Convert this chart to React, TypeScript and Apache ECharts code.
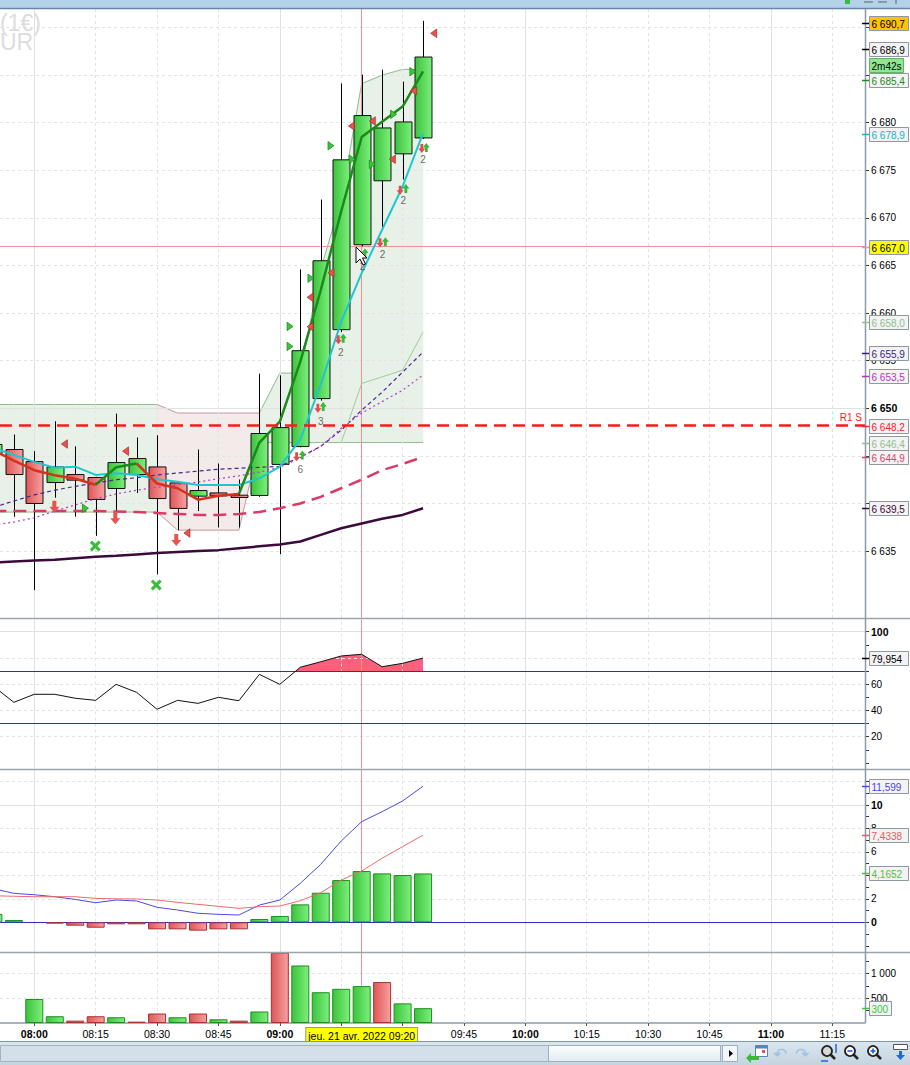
import React, { useEffect, useRef } from 'react';
import * as echarts from 'echarts';

const FONT = "'Liberation Sans', Arial, sans-serif";

// ---------- time scale (minutes after 07:00), 5-minute bars 07:50 … 09:35 ----------
const barTimes = [50, 55, 60, 65, 70, 75, 80, 85, 90, 95, 100, 105, 110, 115, 120, 125, 130, 135, 140, 145, 150, 155];

// ---------- candles ----------
const opens = [6645.2, 6645.67, 6644.4, 6642.2, 6643.04, 6642.73, 6641.57, 6643.04, 6643.84, 6642.16, 6640.77, 6641.11, 6640.87, 6640.84, 6644.1, 6645.98, 6651.02, 6658.26, 6667.18, 6673.9, 6676.73, 6678.4];
const closes = [6646.2, 6643.04, 6640.0, 6643.84, 6642.45, 6640.42, 6644.3, 6644.72, 6640.52, 6639.48, 6641.36, 6640.8, 6640.63, 6647.35, 6647.97, 6656.05, 6665.5, 6676.1, 6680.75, 6679.45, 6680.08, 6686.9];
const lows = [6644.5, 6638.6, 6630.9, 6640.6, 6638.6, 6636.6, 6639.1, 6641.1, 6632.55, 6637.2, 6639.2, 6637.48, 6637.48, 6640.7, 6634.68, 6645.9, 6650.8, 6658.0, 6667.0, 6668.68, 6674.03, 6678.3];
const highs = [6647.0, 6647.24, 6645.5, 6648.64, 6646.0, 6642.8, 6649.44, 6646.93, 6647.17, 6642.3, 6645.67, 6644.2, 6642.52, 6653.64, 6653.46, 6664.59, 6671.93, 6684.13, 6685.05, 6685.57, 6684.31, 6690.7];

// ---------- overlays ----------
const fastMa = [6645.6, 6644.5, 6643.5, 6642.97, 6642.6, 6641.97, 6643.8, 6644.2, 6642.1, 6641.6, 6640.4, 6640.8, 6641.0, 6646.4, 6648.6, 6654.9, 6662.4, 6670.7, 6678.5, 6680.1, 6681.7, 6685.4];
// per segment (bar i -> i+1): 1 = rising colour (green), 0 = falling colour (red)
const fastMaSegUp = [0, 0, 0, 0, 0, 1, 1, 0, 0, 0, 0, 0, 1, 1, 1, 1, 1, 1, 1, 1, 1];
const cyanLine = [6645.84, 6645.1, 6644.37, 6643.76, 6643.87, 6643.0, 6643.17, 6643.0, 6642.54, 6642.29, 6641.94, 6641.94, 6641.94, 6642.65, 6643.87, 6646.7, 6652.5, 6659.1, 6664.2, 6668.75, 6673.3, 6678.9];
const crimsonMa = [6639.2, 6639.2, 6639.2, 6639.2, 6639.2, 6639.2, 6639.15, 6639.1, 6639.0, 6638.9, 6638.8, 6638.8, 6638.9, 6639.1, 6639.5, 6640.0, 6640.7, 6641.6, 6642.5, 6643.5, 6644.15, 6644.9];
const slowMa = [6633.8, 6633.9, 6634.0, 6634.1, 6634.25, 6634.4, 6634.5, 6634.65, 6634.8, 6634.9, 6635.0, 6635.1, 6635.3, 6635.5, 6635.7, 6636.0, 6636.7, 6637.4, 6637.9, 6638.4, 6638.8, 6639.5];
const purpleDash = [6639.6, 6640.26, 6640.9, 6641.4, 6641.8, 6642.15, 6642.5, 6642.7, 6643.0, 6643.2, 6643.4, 6643.6, 6643.7, 6643.8, 6643.9, 6644.9, 6646.0, 6647.7, 6649.8, 6651.7, 6653.8, 6655.9];
const magentaDot = [6637.7, 6638.05, 6638.5, 6639.2, 6639.85, 6640.5, 6641.0, 6641.4, 6641.7, 6641.95, 6642.25, 6642.6, 6642.9, 6643.3, 6643.8, 6644.8, 6646.0, 6647.9, 6649.5, 6650.7, 6651.9, 6653.5];
const bandUpper = [6650.4, 6650.4, 6650.4, 6650.4, 6650.4, 6650.4, 6650.4, 6650.4, 6650.4, 6649.5, 6649.5, 6649.5, 6649.5, 6649.5, 6653.7, 6653.7, 6664.6, 6671.9, 6684.1, 6685.0, 6685.6, 6685.6];
const bandLower = [6639.1, 6639.1, 6639.1, 6639.1, 6639.1, 6639.1, 6639.1, 6639.1, 6639.1, 6637.2, 6637.2, 6637.2, 6637.2, 6646.4, 6646.4, 6646.4, 6646.4, 6646.4, 6646.4, 6646.4, 6646.4, 6646.4];
// per segment: 1 = bearish (pink) fill, 0 = bullish (green) fill
const bandPink = [0, 0, 0, 0, 0, 0, 0, 0, 1, 1, 1, 1, 1, 0, 0, 0, 0, 0, 0, 0, 0];
const bandInner = [null, null, null, null, null, null, null, null, null, null, null, null, null, null, null, null, null, 6646.4, 6652.6, 6653.3, 6654.0, 6658.0];

const crossTime = 140;
const crossPrice = 6667.0;
const crossDateText = 'jeu. 21 avr. 2022';
const r1Level = 6648.2;
const r1Label = 'R1 S';
const timeRemaining = '2m42s';
const watermarkText = '(1€)\nUR';

// ---------- signal markers [time, price] ----------
const sellTriangles = [[67.35, 6646.25], [82.3, 6645.5], [97.3, 6636.9], [127.4, 6661.66], [127.4, 6658.57], [132.5, 6664.24], [137.5, 6679.65], [142.6, 6680.18], [147.5, 6676.16], [152.7, 6683.36], [157.6, 6689.39]];
const buyTriangles = [[72.5, 6639.5], [122.5, 6658.6], [122.5, 6656.5], [127.6, 6663.66], [132.5, 6677.58], [137.7, 6676.16], [142.6, 6675.63], [147.8, 6680.88], [152.5, 6685.36]];
const bigSellArrows = [[64.9, 6639.66], [79.8, 6638.45], [94.7, 6636.17]];
const crossSignals = [[74.9, 6635.54], [89.8, 6631.44]];
const smallSellArrows = [[124.1, 6644.9], [129.3, 6650.0], [134.3, 6657.2], [144.5, 6667.4], [149.4, 6672.9], [154.7, 6677.3]];
const smallBuyArrows = [[125.5, 6645.1], [130.6, 6650.2], [135.5, 6657.35], [140.8, 6666.3], [145.8, 6667.5], [150.8, 6673.1], [155.8, 6677.4]];
const signalCountPos = [[125.0, 6643.6], [130.0, 6648.6], [134.9, 6655.9], [140.2, 6664.9], [145.1, 6666.2], [150.2, 6671.8], [155.0, 6676.1]];
const signalCountText = ['6', '3', '2', '2', '2', '2', '2'];

// ---------- RSI ----------
const rsi = [58.5, 46.2, 52.3, 52.3, 49.3, 47.7, 59.9, 53.8, 40.9, 47.7, 45.4, 50.0, 47.4, 67.5, 59.9, 72.9, 77.1, 81.5, 82.8, 73.3, 75.9, 79.954];
const rsiOverbought = 70;
const rsiOversold = 30;

// ---------- MACD ----------
const macd = [2.87, 2.47, 2.35, 2.18, 1.95, 1.67, 1.9, 1.82, 1.28, 1.05, 0.77, 0.68, 0.62, 1.47, 1.9, 3.32, 4.94, 6.93, 8.58, 9.43, 10.34, 11.599];
const macdSignal = [2.26, 2.22, 2.18, 2.18, 2.18, 2.04, 2.0, 1.99, 1.9, 1.7, 1.53, 1.36, 1.19, 1.33, 1.39, 1.84, 2.52, 3.6, 4.37, 5.46, 6.45, 7.4338];
const macdHist = [0.71, 0.2, 0, -0.11, -0.29, -0.46, -0.17, -0.17, -0.6, -0.6, -0.71, -0.6, -0.6, 0.28, 0.54, 1.53, 2.52, 3.6, 4.37, 4.17, 4.03, 4.1652];

// ---------- volume ----------
const volume = [null, null, 486, 137, 48, 137, 116, 27, 192, 116, 192, 75, 48, 233, 1500, 1164, 623, 692, 747, 829, 397, 300];
const volumeUp = [1, 1, 1, 1, 0, 0, 1, 0, 0, 1, 0, 1, 0, 1, 0, 1, 1, 1, 1, 0, 1, 1];

// ---------- axes ----------
const quarterTimes = [60, 75, 90, 105, 120, 135, 150, 165, 180, 195, 210, 225, 240, 255];
const hourTimes = [60, 120, 180, 240];
const xLabelTimes = [60, 75, 90, 105, 120, 140, 165, 180, 195, 210, 225, 240, 255];
const priceTicks = [6635, 6640, 6645, 6650, 6655, 6660, 6665, 6670, 6675, 6680, 6685, 6690];
const priceLabels = [6635, 6650, 6655, 6660, 6665, 6670, 6675, 6680];
const priceBold = [6650];
const rsiTicks = [0, 10, 20, 30, 40, 50, 60, 70, 80, 90, 100];
const rsiLabels = [20, 40, 60, 100];
const rsiGridVals = [20, 40, 60, 80, 100];
const macdTicks = [-2, -1, 0, 1, 2, 3, 4, 5, 6, 7, 8, 9, 10, 11, 12];
const macdLabels = [0, 2, 6, 8, 10];
const macdGridVals = [2, 4, 6, 8, 10, 12];
const volTicks = [250, 500, 750, 1000, 1250];
const volLabels = [500, 1000];

const last = barTimes.length - 1;

const hhmm = (m: number) => {
  const h = 7 + Math.floor(m / 60);
  const mm = Math.round(m % 60);
  return `${String(h).padStart(2, '0')}:${String(mm).padStart(2, '0')}`;
};
const fmtNum = (v: number, dec: number) => {
  const [i, d] = v.toFixed(dec).split('.');
  const ii = i.replace(/\B(?=(\d{3})+(?!\d))/g, ' ');
  return d ? `${ii},${d}` : ii;
};

const greenGrad = () => new echarts.graphic.LinearGradient(0, 0, 1, 0, [{ offset: 0, color: '#3cc43c' }, { offset: 1, color: '#7def7d' }]);
const redGrad = () => new echarts.graphic.LinearGradient(0, 0, 1, 0, [{ offset: 0, color: '#e05656' }, { offset: 1, color: '#f6a0a0' }]);

const CROSS_COLOR = '#f29090';
const gridLineStyle = (solid: boolean) => ({ color: solid ? '#e1e1e1' : '#e3e3e3', type: solid ? 'solid' : [3, 3], width: 1 });
const vGridData = () => quarterTimes.map((t) => ({ xAxis: t, lineStyle: gridLineStyle(hourTimes.includes(t)) }));
const hGridData = (vals: number[], solidVals: number[]) => vals.map((v) => ({ yAxis: v, lineStyle: gridLineStyle(solidVals.includes(v)) }));
const crossV = () => ({ xAxis: crossTime, lineStyle: { color: CROSS_COLOR, width: 1, type: 'solid' } });
const markLineOf = (data: any[], z: number) => ({
  silent: true, symbol: ['none', 'none'], z, label: { show: false }, emphasis: { disabled: true }, animation: false, data,
});

const pair = (arr: (number | null)[]) => barTimes.map((t, i) => [t, arr[i] == null ? '-' : arr[i]]);

function buildOption(): any {
  const xMin = 51.62;
  const xMax = 263.0;
  const grids = [
    { left: 0, right: 45, top: 8, height: 610 },
    { left: 0, right: 45, top: 619.5, height: 149 },
    { left: 0, right: 45, top: 770, height: 182 },
    { left: 0, right: 45, top: 953, height: 70 },
  ].map((g) => ({ ...g, outerBoundsMode: 'none', containLabel: false, show: false }));

  const xAxis = grids.map((_, i) => {
    if (i < 3) return { type: 'value', gridIndex: i, min: xMin, max: xMax, show: false };
    return {
      type: 'value', gridIndex: i, min: xMin, max: xMax,
      axisLine: { show: true, lineStyle: { color: '#8c9aa6', width: 1.5 } },
      axisTick: { show: true, customValues: quarterTimes, length: 3, lineStyle: { color: '#555' } },
      splitLine: { show: false },
      axisLabel: {
        customValues: xLabelTimes, margin: 5, color: '#000', fontSize: 10.5, fontFamily: FONT,
        formatter: (v: number) =>
          v === crossTime ? `{d|${crossDateText} ${hhmm(v)}}` : hourTimes.includes(v) ? `{b|${hhmm(v)}}` : `{n|${hhmm(v)}}`,
        rich: {
          b: { fontWeight: 'bold', fontSize: 10.5, fontFamily: FONT, color: '#000' },
          n: { fontSize: 10.5, fontFamily: FONT, color: '#000' },
          d: { fontSize: 10.5, fontFamily: FONT, color: '#000', backgroundColor: '#ffff00', borderColor: '#8e989f', borderWidth: 1, padding: [2, 2, 1, 2] },
        },
      },
    };
  });

  const yAx = (i: number, min: number, max: number, ticks: number[], labels: number[], bold: number[], fmt: (v: number) => string) => ({
    type: 'value', gridIndex: i, position: 'right', min, max,
    axisLine: { show: false },
    axisTick: { show: true, customValues: ticks, length: 4, lineStyle: { color: '#333' } },
    splitLine: { show: false },
    axisLabel: {
      customValues: labels, margin: 6, color: '#000', fontSize: 10, fontFamily: FONT,
      formatter: (v: number) => (bold.includes(v) ? `{b|${fmt(v)}}` : `{n|${fmt(v)}}`),
      rich: {
        b: { fontWeight: 'bold', fontSize: 10.5, fontFamily: FONT, color: '#000' },
        n: { fontSize: 10, fontFamily: FONT, color: '#000' },
      },
    },
  });

  const yAxis = [
    yAx(0, 6627.97, 6692.05, priceTicks, priceLabels, priceBold, (v) => fmtNum(v, 0)),
    yAx(1, -4.23, 109.3, rsiTicks, rsiLabels, [100], (v) => fmtNum(v, 0)),
    yAx(2, -2.53, 12.98, macdTicks, macdLabels, [0, 10], (v) => fmtNum(v, 0)),
    yAx(3, 0, 1417, volTicks, volLabels, [], (v) => fmtNum(v, 0)),
  ];

  const candleData = barTimes.map((t, i) => [t, opens[i], closes[i], lows[i], highs[i]]);
  const bandData = barTimes.slice(0, -1).map((t, i) => [t, barTimes[i + 1], bandUpper[i], bandUpper[i + 1], bandLower[i], bandLower[i + 1], bandPink[i]]);

  const fastRed = barTimes.map((t, i) => {
    const prev = i > 0 && fastMaSegUp[i - 1] === 0;
    const next = i < last && fastMaSegUp[i] === 0;
    return [t, prev || next ? fastMa[i] : '-'];
  });
  const fastGreen = barTimes.map((t, i) => {
    const prev = i > 0 && fastMaSegUp[i - 1] === 1;
    const next = i < last && fastMaSegUp[i] === 1;
    return [t, prev || next ? fastMa[i] : '-'];
  });

  const lineS = (data: any[], color: string, width: number, type: any, z: number, extra: any = {}) => ({
    type: 'line', xAxisIndex: 0, yAxisIndex: 0, data, showSymbol: false, symbol: 'none', z,
    lineStyle: { color, width, type }, connectNulls: false, silent: true, animation: false, ...extra,
  });

  const arrowDown = 'path://M3,0 L7,0 L7,6 L10,6 L5,12 L0,6 L3,6 Z';
  const arrowUp = 'path://M5,0 L10,6 L7,6 L7,12 L3,12 L3,6 L0,6 Z';
  const crossPath = 'path://M2,0 L5,3 L8,0 L10,2 L7,5 L10,8 L8,10 L5,7 L2,10 L0,8 L3,5 L0,2 Z';

  const scat = (data: any[], symbol: string, size: any, rotate: number, color: string, border: string) => ({
    type: 'scatter', xAxisIndex: 0, yAxisIndex: 0, data, symbol, symbolSize: size, symbolRotate: rotate, z: 5, silent: true,
    itemStyle: { color, borderColor: border, borderWidth: border === 'none' ? 0 : 0.7, opacity: 1 },
  });

  const barStyle = (up: boolean) => (up
    ? { color: greenGrad(), borderColor: '#1f8e1f', borderWidth: 1 }
    : { color: redGrad(), borderColor: '#a83232', borderWidth: 1 });

  const series: any[] = [
    // channel band
    {
      type: 'custom', xAxisIndex: 0, yAxisIndex: 0, z: 1, clip: true, silent: true, data: bandData,
      encode: { x: 0, y: 2 },
      renderItem: (params: any, api: any) => {
        const a = api.coord([api.value(0), api.value(2)]);
        const b = api.coord([api.value(1), api.value(3)]);
        const c = api.coord([api.value(1), api.value(5)]);
        const d = api.coord([api.value(0), api.value(4)]);
        const pink = api.value(6) === 1;
        const fill = pink ? '#f3eaea' : '#e8f1e8';
        const edge = pink ? '#c39c9c' : '#8dbd8d';
        return {
          type: 'group',
          children: [
            { type: 'polygon', shape: { points: [a, b, c, d] }, style: { fill, stroke: fill, lineWidth: 0.6 } },
            { type: 'line', shape: { x1: a[0], y1: a[1], x2: b[0], y2: b[1] }, style: { stroke: edge, lineWidth: 1 } },
            { type: 'line', shape: { x1: d[0], y1: d[1], x2: c[0], y2: c[1] }, style: { stroke: edge, lineWidth: 1 } },
          ],
        };
      },
    },
    // candles
    {
      type: 'custom', xAxisIndex: 0, yAxisIndex: 0, z: 3, clip: true, silent: true, data: candleData,
      encode: { x: 0, y: [1, 2, 3, 4] },
      renderItem: (params: any, api: any) => {
        const t = api.value(0);
        const o = api.value(1), c = api.value(2), l = api.value(3), h = api.value(4);
        const pO = api.coord([t, o]);
        const pC = api.coord([t, c]);
        const pL = api.coord([t, l]);
        const pH = api.coord([t, h]);
        const w = api.size([5, 0])[0] * 0.83;
        const x = Math.round(pO[0]) + 0.5;
        const top = Math.min(pO[1], pC[1]);
        const bot = Math.max(pO[1], pC[1]);
        const up = c >= o;
        return {
          type: 'group',
          children: [
            { type: 'line', shape: { x1: x, y1: pH[1], x2: x, y2: pL[1] }, style: { stroke: '#000', lineWidth: 1 } },
            { type: 'rect', shape: { x: x - w / 2, y: top, width: w, height: Math.max(bot - top, 1.5) }, style: { fill: up ? greenGrad() : redGrad(), stroke: '#111', lineWidth: 1 } },
          ],
        };
      },
    },
    lineS(pair(slowMa), '#3a0a3c', 2.5, 'solid', 4, {
      markLine: markLineOf([...vGridData(), ...hGridData(priceTicks, priceBold), crossV(), { yAxis: crossPrice, lineStyle: { color: CROSS_COLOR, width: 1, type: 'solid' } }], 2),
    }),
    lineS(pair(crimsonMa), '#d83c66', 2.5, [13, 7], 4),
    lineS(pair(purpleDash), '#4a2590', 1.2, [4, 3], 4),
    lineS(pair(magentaDot), '#b03cc4', 1.2, [2, 3], 4, {
      markLine: markLineOf([{
        yAxis: r1Level, lineStyle: { color: '#ff1a1a', width: 2.5, type: [12, 7] },
        label: { show: true, formatter: r1Label, position: 'insideEndTop', color: '#ff1a1a', fontSize: 10, fontFamily: FONT, distance: 3 },
      }], 6),
    }),
    lineS(pair(bandInner), '#9fcb9f', 1, 'solid', 4),
    lineS(pair(cyanLine), '#1ec6d2', 2, 'solid', 4),
    lineS(fastRed, '#d5321e', 2.5, 'solid', 4),
    lineS(fastGreen, '#1a8a1a', 2.5, 'solid', 4),
    scat(sellTriangles, 'triangle', [8.5, 6], 90, '#e65252', '#b02424'),
    scat(buyTriangles, 'triangle', [8.5, 6], -90, '#3cc43c', '#138a13'),
    scat(bigSellArrows, arrowDown, [10, 12], 0, '#e8534f', 'none'),
    scat(crossSignals, crossPath, [11, 11], 0, '#3cbc3c', 'none'),
    scat(smallSellArrows, arrowDown, [7, 9], 0, '#e44c4c', 'none'),
    scat(smallBuyArrows, arrowUp, [7, 9], 0, '#38b838', 'none'),
    {
      type: 'scatter', xAxisIndex: 0, yAxisIndex: 0, z: 5, silent: true, symbolSize: 1,
      itemStyle: { color: 'rgba(0,0,0,0)' },
      data: signalCountPos.map((p, i) => [p[0], p[1], signalCountText[i]]),
      label: { show: true, position: 'inside', formatter: (p: any) => String(p.value[2]), fontSize: 10, fontFamily: FONT, color: '#444' },
    },
    // RSI
    {
      type: 'custom', xAxisIndex: 1, yAxisIndex: 1, z: 1, clip: true, silent: true, data: [[barTimes[0], rsiOverbought]],
      renderItem: (params: any, api: any) => {
        const base = api.coord([barTimes[0], rsiOverbought])[1];
        const pts = barTimes.map((t, i) => api.coord([t, rsi[i]]));
        const poly: number[][] = [[pts[0][0], base]];
        for (let i = 0; i < pts.length; i++) {
          const p = pts[i];
          if (i > 0) {
            const q = pts[i - 1];
            if ((q[1] - base) * (p[1] - base) < 0) {
              const f = (base - q[1]) / (p[1] - q[1]);
              poly.push([q[0] + f * (p[0] - q[0]), base]);
            }
          }
          poly.push([p[0], Math.min(p[1], base)]);
        }
        poly.push([pts[pts.length - 1][0], base]);
        return { type: 'polygon', shape: { points: poly }, style: { fill: '#ff5f7e' } };
      },
    },
    {
      type: 'line', xAxisIndex: 1, yAxisIndex: 1, data: pair(rsi), showSymbol: false, symbol: 'none', z: 4, silent: true,
      lineStyle: { color: '#111', width: 1 },
      markLine: markLineOf([
        ...vGridData(), ...hGridData(rsiGridVals, [100]), crossV(),
        { yAxis: rsiOverbought, lineStyle: { color: '#2a2ad2', width: 1.2, type: 'solid' } },
        { yAxis: rsiOversold, lineStyle: { color: '#2a2ad2', width: 1.2, type: 'solid' } },
      ], 2),
    },
    // MACD
    {
      type: 'bar', xAxisIndex: 2, yAxisIndex: 2, barWidth: 18, z: 3, silent: true,
      data: macdHist.map((v, i) => (v === 0 ? [barTimes[i], '-'] : { value: [barTimes[i], v], itemStyle: barStyle(v > 0) })),
    },
    {
      type: 'line', xAxisIndex: 2, yAxisIndex: 2, data: pair(macd), showSymbol: false, symbol: 'none', z: 4, silent: true,
      lineStyle: { color: '#4a4ae6', width: 1 },
      markLine: markLineOf([
        ...vGridData(), ...hGridData(macdGridVals, [10]), crossV(),
        { yAxis: 0, lineStyle: { color: '#2a2ad2', width: 1.2, type: 'solid' } },
      ], 2),
    },
    {
      type: 'line', xAxisIndex: 2, yAxisIndex: 2, data: pair(macdSignal), showSymbol: false, symbol: 'none', z: 4, silent: true,
      lineStyle: { color: '#ee6a6a', width: 1 },
    },
    // volume
    {
      type: 'bar', xAxisIndex: 3, yAxisIndex: 3, barWidth: 18, z: 3, silent: true,
      data: volume.map((v, i) => (v == null ? [barTimes[i], '-'] : { value: [barTimes[i], v], itemStyle: barStyle(volumeUp[i] === 1) })),
      markLine: markLineOf([...vGridData(), ...hGridData([500, 1000], []), crossV()], 2),
    },
  ];

  return {
    animation: false,
    backgroundColor: '#ffffff',
    textStyle: { fontFamily: FONT },
    grid: grids,
    xAxis,
    yAxis,
    series,
  };
}

function valueBox(y: number, text: string, color: string, fill: string, tick: string, width = 39): any {
  const yy = Math.round(y);
  return {
    type: 'group', z: 100, silent: true,
    children: [
      { type: 'line', shape: { x1: 862, y1: yy + 0.5, x2: 869, y2: yy + 0.5 }, style: { stroke: tick, lineWidth: 1.5 }, z: 100 },
      { type: 'rect', shape: { x: 869.5, y: yy - 6.5, width, height: 14 }, style: { fill, stroke: '#8e989f', lineWidth: 1 }, z: 100 },
      { type: 'text', x: 871.5, y: yy + 1, style: { text, fill: color, fontSize: 10, fontFamily: FONT, verticalAlign: 'middle', align: 'left' }, z: 101 },
    ],
  };
}

function buildGraphics(chart: any): any[] {
  const py = (axis: number, v: number) => chart.convertToPixel({ yAxisIndex: axis }, v) as number;
  const G: any[] = [];
  // watermark (instrument name, cut off at the left edge as in the platform)
  G.push({ type: 'text', x: 0, y: 13, z: 0, silent: true, style: { text: watermarkText, fill: '#dcdcdc', fontSize: 23, lineHeight: 19, fontFamily: FONT, verticalAlign: 'top' } });
  // header strip
  G.push({ type: 'rect', z: 50, silent: true, shape: { x: 0, y: 0, width: 910, height: 8 }, style: { fill: '#b3d2e9' } });
  G.push({ type: 'line', z: 50, silent: true, shape: { x1: 0, y1: 8.5, x2: 910, y2: 8.5 }, style: { stroke: '#6586a6', lineWidth: 1.5 } });
  G.push({ type: 'rect', z: 51, silent: true, shape: { x: 845, y: 0, width: 5, height: 4 }, style: { fill: '#3cb83c' } });
  G.push({ type: 'rect', z: 51, silent: true, shape: { x: 864, y: 1, width: 9, height: 2 }, style: { fill: '#8a99a6' } });
  G.push({ type: 'rect', z: 51, silent: true, shape: { x: 878, y: 1, width: 9, height: 2 }, style: { fill: '#8a99a6' } });
  G.push({ type: 'rect', z: 51, silent: true, shape: { x: 895, y: 0, width: 2, height: 4 }, style: { fill: '#8a99a6' } });
  // panel separators & right axis line
  [618.5, 769.5, 952.5].forEach((y) => G.push({ type: 'line', z: 50, silent: true, shape: { x1: 0, y1: y, x2: 910, y2: y }, style: { stroke: '#9aa4ad', lineWidth: 1.5 } }));
  G.push({ type: 'line', z: 50, silent: true, shape: { x1: 865.5, y1: 9, x2: 865.5, y2: 1023 }, style: { stroke: '#8c9aa6', lineWidth: 1.5 } });

  // mouse cursor
  const cx = 356, cy = 247;
  G.push({ type: 'polygon', z: 60, silent: true, shape: { points: [[cx, cy], [cx, cy + 16], [cx + 4, cy + 12], [cx + 7, cy + 18], [cx + 9.5, cy + 17], [cx + 6.5, cy + 11], [cx + 11, cy + 11]] }, style: { fill: '#fff', stroke: '#000', lineWidth: 1 } });

  // value boxes - price panel
  const closeY = py(0, closes[last]);
  const boxes: any[] = [
    { v: highs[last], dec: 1, color: '#000', fill: '#ffc400', tick: '#000', dy: 2 },
    { v: closes[last], dec: 1, color: '#000', fill: '#f3f3f3', tick: '#000', dy: -8 },
    { v: fastMa[last], dec: 1, color: '#1c8c1c', fill: '#f3f3f3', tick: '#1c8c1c', dy: 9 },
    { v: cyanLine[last], dec: 1, color: '#17b4c4', fill: '#f3f3f3', tick: '#17b4c4', dy: 1 },
    { v: crossPrice, dec: 1, color: '#000', fill: '#ffff00', tick: CROSS_COLOR, dy: 1 },
    { v: bandInner[last] as number, dec: 1, color: '#8fc08f', fill: '#f3f3f3', tick: '#8fc08f', dy: -10 },
    { v: purpleDash[last], dec: 1, color: '#3c1c8c', fill: '#f3f3f3', tick: '#3c1c8c', dy: 1 },
    { v: magentaDot[last], dec: 1, color: '#b434c4', fill: '#f3f3f3', tick: '#b434c4', dy: 1 },
    { v: r1Level, dec: 1, color: '#ff2020', fill: '#f3f3f3', tick: '#ff2020', dy: 1 },
    { v: bandLower[last], dec: 1, color: '#8fc08f', fill: '#f3f3f3', tick: '#8fc08f', dy: 0 },
    { v: crimsonMa[last], dec: 1, color: '#e0406a', fill: '#f3f3f3', tick: '#e0406a', dy: 0 },
    { v: slowMa[last], dec: 1, color: '#3a0a3a', fill: '#f3f3f3', tick: '#3a0a3a', dy: 0 },
  ];
  boxes.forEach((b) => G.push(valueBox(py(0, b.v) + b.dy, fmtNum(b.v, b.dec), b.color, b.fill, b.tick)));
  // time-remaining box
  const tr = Math.round(closeY + 8);
  G.push({
    type: 'group', z: 102, silent: true,
    children: [
      { type: 'rect', z: 102, shape: { x: 869.5, y: tr - 6.5, width: 34, height: 14 }, style: { fill: '#90e690', stroke: '#62b362', lineWidth: 1 } },
      { type: 'text', z: 103, x: 871.5, y: tr + 1, style: { text: timeRemaining, fill: '#000', fontSize: 10, fontFamily: FONT, verticalAlign: 'middle' } },
    ],
  });
  // RSI, MACD, volume boxes
  G.push(valueBox(py(1, rsi[last]), fmtNum(rsi[last], 3), '#000', '#f3f3f3', '#000'));
  G.push(valueBox(py(2, macd[last]), fmtNum(macd[last], 3), '#4646e6', '#f3f3f3', '#4646e6'));
  G.push(valueBox(py(2, macdSignal[last]), fmtNum(macdSignal[last], 4), '#e85a5a', '#f3f3f3', '#e85a5a'));
  G.push(valueBox(py(2, macdHist[last]), fmtNum(macdHist[last], 4), '#3cc83c', '#f3f3f3', '#3cc83c'));
  G.push(valueBox(py(3, volume[last] as number), fmtNum(volume[last] as number, 0), '#3cc83c', '#f3f3f3', '#3cc83c', 22));

  // bottom scroll bar / toolbar
  G.push({ type: 'line', z: 50, silent: true, shape: { x1: 0, y1: 1041.5, x2: 910, y2: 1041.5 }, style: { stroke: '#7f97aa', lineWidth: 1 } });
  G.push({ type: 'rect', z: 49, silent: true, shape: { x: 0, y: 1042, width: 910, height: 23 }, style: { fill: new echarts.graphic.LinearGradient(0, 0, 0, 1, [{ offset: 0, color: '#dae6ee' }, { offset: 1, color: '#c4d4df' }]) } });
  G.push({ type: 'rect', z: 50, silent: true, shape: { x: 0.5, y: 1045.5, width: 722, height: 16 }, style: { fill: '#d3e0e9', stroke: '#a3b4c0', lineWidth: 1 } });
  G.push({ type: 'rect', z: 51, silent: true, shape: { x: 548.5, y: 1045.5, width: 172, height: 16 }, style: { fill: new echarts.graphic.LinearGradient(0, 0, 0, 1, [{ offset: 0, color: '#fbfdfe' }, { offset: 1, color: '#e1ebf1' }]), stroke: '#9fb0bd', lineWidth: 1 } });
  G.push({ type: 'rect', z: 51, silent: true, shape: { x: 722.5, y: 1045.5, width: 15, height: 16 }, style: { fill: '#f2f6f8', stroke: '#9fb0bd', lineWidth: 1 } });
  G.push({ type: 'polygon', z: 52, silent: true, shape: { points: [[729, 1050], [733, 1053.5], [729, 1057]] }, style: { fill: '#000' } });
  // calendar icon
  G.push({ type: 'rect', z: 52, silent: true, shape: { x: 755.5, y: 1045.5, width: 12, height: 11 }, style: { fill: '#fff', stroke: '#5b84b5', lineWidth: 1 } });
  G.push({ type: 'rect', z: 52, silent: true, shape: { x: 755.5, y: 1045.5, width: 12, height: 3 }, style: { fill: '#5b84b5' } });
  G.push({ type: 'rect', z: 52, silent: true, shape: { x: 762, y: 1050, width: 3, height: 3 }, style: { fill: '#e0554a' } });
  G.push({ type: 'polygon', z: 53, silent: true, shape: { points: [[746, 1058], [751, 1053], [751, 1056], [759, 1056], [759, 1060], [751, 1060], [751, 1063]] }, style: { fill: '#3cb83c' } });
  // undo / redo
  G.push({ type: 'text', z: 52, silent: true, x: 773, y: 1054, style: { text: '↶', fill: '#9cc3e3', fontSize: 17, fontFamily: "'DejaVu Sans'", verticalAlign: 'middle' } });
  G.push({ type: 'text', z: 52, silent: true, x: 795, y: 1054, style: { text: '↷', fill: '#9cc3e3', fontSize: 17, fontFamily: "'DejaVu Sans'", verticalAlign: 'middle' } });
  // magnifiers
  [[827, 'fit'], [850, '-'], [873, '+']].forEach(([x, kind]: any) => {
    G.push({ type: 'circle', z: 52, silent: true, shape: { cx: x, cy: 1051, r: 5 }, style: { fill: kind === 'fit' ? '#d8d8d8' : '#fff', stroke: '#222', lineWidth: 1.8 } });
    G.push({ type: 'line', z: 52, silent: true, shape: { x1: x + 3.5, y1: 1054.5, x2: x + 8, y2: 1059 }, style: { stroke: '#222', lineWidth: 2.5 } });
    if (kind !== 'fit') {
      G.push({ type: 'line', z: 53, silent: true, shape: { x1: x - 2.5, y1: 1051, x2: x + 2.5, y2: 1051 }, style: { stroke: '#1e5ad8', lineWidth: 1.6 } });
      if (kind === '+') G.push({ type: 'line', z: 53, silent: true, shape: { x1: x, y1: 1048.5, x2: x, y2: 1053.5 }, style: { stroke: '#1e5ad8', lineWidth: 1.6 } });
    } else {
      G.push({ type: 'line', z: 53, silent: true, shape: { x1: x + 9, y1: 1044, x2: x + 9, y2: 1053 }, style: { stroke: '#1e5ad8', lineWidth: 1.4 } });
      G.push({ type: 'line', z: 53, silent: true, shape: { x1: x - 6, y1: 1061, x2: x + 1, y2: 1061 }, style: { stroke: '#1e5ad8', lineWidth: 1.4 } });
    }
  });
  // download icon
  G.push({ type: 'rect', z: 52, silent: true, shape: { x: 893.5, y: 1044.5, width: 14, height: 5 }, style: { fill: '#fff', stroke: '#555', lineWidth: 1 } });
  G.push({ type: 'polygon', z: 53, silent: true, shape: { points: [[899, 1051], [902, 1051], [902, 1055], [905, 1055], [900.5, 1060], [896, 1055], [899, 1055]] }, style: { fill: '#1e6ad8' } });
  return G;
}

export default function App() {
  const ref = useRef<HTMLDivElement>(null);
  useEffect(() => {
    document.body.style.margin = '0';
    const chart = echarts.init(ref.current as HTMLDivElement, undefined, { renderer: 'svg', width: 910, height: 1065 });
    chart.setOption(buildOption());
    chart.setOption({ graphic: buildGraphics(chart) });
    return () => chart.dispose();
  }, []);
  return <div ref={ref} style={{ position: 'absolute', left: 0, top: 0, width: 910, height: 1065 }} />;
}
